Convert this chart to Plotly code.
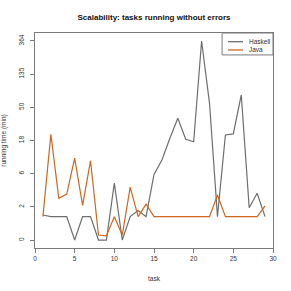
import numpy as np
import plotly.graph_objects as go

tasks = list(range(1, 30))
haskell = [1.1, 1, 1, 1, 0, 1, 1, 0, 0, 4.4, 0, 1, 1.4, 1, 6, 9.7, 19.4, 36, 18.8, 17.4,
           364, 56.5, 1, 21.5, 22.2, 72.6, 1.6, 3, 1]
java = [1, 21.9, 2.45, 2.9, 10.3, 1.8, 9.5, 0.16, 0.13, 1, 0.16, 3.8, 1, 1.9, 1, 1, 1, 1, 1, 1,
        1, 1, 2.8, 1, 1, 1, 1, 1, 1.75]
series_names = ["Haskell", "Java"]
series_colors = ["#6e6e6e", "#d0661e"]
ytick_labels = ["0", "2", "6", "18", "50", "135", "364"]
xtick_vals = [0, 5, 10, 15, 20, 25, 30]

ymax = np.log1p(364)
ytick_pos = [k * ymax / 6 for k in range(7)]
pad = 0.04 * ymax

font_family = "Liberation Sans, Arial, sans-serif"
axis_col = "#7a7a7a"
text_col = "#333333"

fig = go.Figure()
for name, vals, col in zip(series_names, [haskell, java], series_colors):
    fig.add_trace(go.Scatter(x=tasks, y=np.log1p(vals), mode="lines", name=name,
                             line=dict(color=col, width=1.2)))

# compact legend box (top-right, flush with the plot frame)
shapes = [dict(type="rect", xref="paper", yref="paper", x0=0.786, x1=1.0, y0=0.898, y1=1.0,
               line=dict(color=axis_col, width=1), fillcolor="white", layer="above")]
annotations = []
for i, (name, col) in enumerate(zip(series_names, series_colors)):
    yy = 0.9595 - i * 0.0385
    shapes.append(dict(type="line", xref="paper", yref="paper", x0=0.811, x1=0.874,
                       y0=yy, y1=yy, line=dict(color=col, width=1.3), layer="above"))
    annotations.append(dict(text=name, xref="paper", yref="paper", x=0.892, y=yy,
                            xanchor="left", yanchor="middle", showarrow=False,
                            font=dict(size=6.5, color=text_col)))

fig.update_layout(
    width=291, height=291,
    margin=dict(l=35, r=18, t=33, b=43, autoexpand=False),
    paper_bgcolor="white", plot_bgcolor="white",
    font=dict(family=font_family, size=6.5, color=text_col),
    title=dict(text="<b>Scalability: tasks running without errors</b>",
               x=0.5, xref="paper", xanchor="center", y=1 - 17 / 291, yanchor="middle",
               font=dict(size=8, color="#111111")),
    showlegend=False,
    shapes=shapes,
    annotations=annotations,
)
fig.update_xaxes(range=[0, 30], tickvals=xtick_vals, ticks="outside", ticklen=4,
                 tickcolor=axis_col, showline=True, linecolor=axis_col, linewidth=1,
                 mirror=True, showgrid=False, zeroline=False, automargin=False,
                 title=dict(text="task", font=dict(size=6.5)))
fig.update_yaxes(range=[-pad, ymax + pad], tickvals=ytick_pos, ticktext=ytick_labels,
                 tickangle=-90, ticks="outside", ticklen=4, tickcolor=axis_col,
                 ticklabelstandoff=3, automargin=False,
                 showline=True, linecolor=axis_col, linewidth=1, mirror=True,
                 showgrid=False, zeroline=False,
                 title=dict(text="running time (min)", font=dict(size=6.5)))

fig.write_html("out.html", config={"displayModeBar": False},
               post_script="document.body.style.margin='0';")
